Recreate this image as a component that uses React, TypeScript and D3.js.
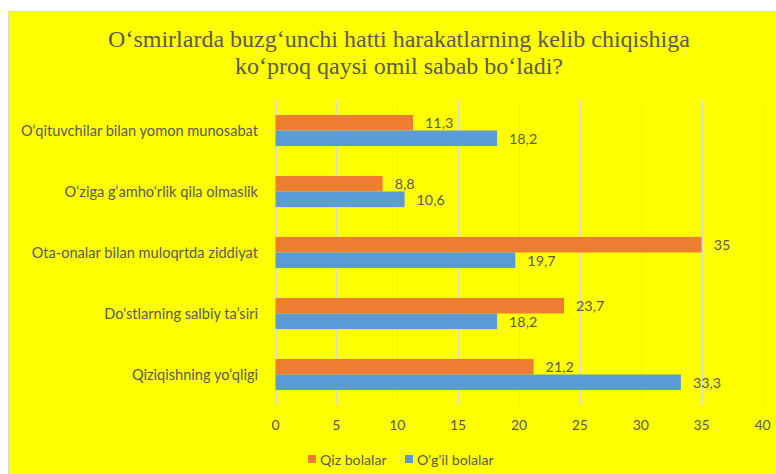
import React from "react";
import * as d3 from "d3";

const categories = [
  "O‘qituvchilar bilan yomon munosabat",
  "O‘ziga g‘amho‘rlik qila olmaslik",
  "Ota-onalar bilan muloqrtda ziddiyat",
  "Do‘stlarning salbiy ta’siri",
  "Qiziqishning yo‘qligi",
];
const qizValues = [11.3, 8.8, 35, 23.7, 21.2];
const ogilValues = [18.2, 10.6, 19.7, 18.2, 33.3];
const seriesNames = ["Qiz bolalar", "O'g'il bolalar"];
const seriesColors = ["#ED7D31", "#5B9BD5"];
const xTicks = [0, 5, 10, 15, 20, 25, 30, 35, 40];
const titleLines = [
  "O‘smirlarda buzg‘unchi hatti harakatlarning kelib chiqishiga",
  "ko‘proq qaysi omil sabab bo‘ladi?",
];

const W = 776;
const H = 474;
const TEXT = "#595959";
const FONT = "Lato, 'Noto Sans', sans-serif";

export default function App() {
  const x = d3.scaleLinear().domain([0, 40]).range([275.5, 762.5]);
  const y0 = d3
    .scaleBand<string>()
    .domain(categories)
    .range([100, 405])
    .paddingInner(0.49)
    .paddingOuter(0.245);
  const y1 = d3
    .scaleBand<string>()
    .domain(seriesNames)
    .range([0, y0.bandwidth()]);
  const fmt = (v: number) => String(v).replace(".", ",");
  const series = [qizValues, ogilValues];

  return (
    <svg
      width={W}
      height={H}
      style={{ position: "absolute", left: 0, top: 0 }}
    >
      <rect x={0} y={0} width={W} height={H} fill="#ffffff" />
      <rect
        x={8.5}
        y={11.5}
        width={W}
        height={H}
        fill="#FFFF00"
        stroke="#D9D9D9"
        strokeWidth={1}
      />
      {titleLines.map((t, i) => (
        <text
          key={i}
          x={399}
          y={47 + i * 27}
          textAnchor="middle"
          fontFamily="'Liberation Serif', 'Times New Roman', serif"
          fontSize={24}
          fill={TEXT}
        >
          {t}
        </text>
      ))}
      {xTicks.map((t) => (
        <g key={t}>
          <line
            x1={Math.round(x(t)) + 0.5}
            x2={Math.round(x(t)) + 0.5}
            y1={100}
            y2={405}
            stroke="#D9D9D9"
            strokeWidth={1}
          />
          <text
            x={x(t)}
            y={424}
            textAnchor="middle"
            dominantBaseline="central"
            fontFamily={FONT}
            fontSize={14}
            fill={TEXT}
          >
            {t}
          </text>
        </g>
      ))}
      {categories.map((c, ci) => (
        <g key={c}>
          <text
            x={258}
            y={(y0(c) as number) + y0.bandwidth() / 2}
            textAnchor="end"
            dominantBaseline="central"
            fontFamily={FONT}
            fontSize={14.6}
            fill={TEXT}
          >
            {c}
          </text>
          {series.map((vals, si) => {
            const yy = (y0(c) as number) + (y1(seriesNames[si]) as number);
            const v = vals[ci];
            return (
              <g key={si}>
                <rect
                  x={x(0)}
                  y={yy}
                  width={x(v) - x(0)}
                  height={y1.bandwidth()}
                  fill={seriesColors[si]}
                />
                <text
                  x={x(v) + 12}
                  y={yy + y1.bandwidth() / 2}
                  dominantBaseline="central"
                  fontFamily={FONT}
                  fontSize={14.3}
                  fill={TEXT}
                >
                  {fmt(v)}
                </text>
              </g>
            );
          })}
        </g>
      ))}
      {seriesNames.map((s, i) => {
        const lx = [308, 405][i];
        return (
          <g key={s}>
            <rect x={lx} y={455} width={8} height={8} fill={seriesColors[i]} />
            <text
              x={lx + 12}
              y={459}
              dominantBaseline="central"
              fontFamily={FONT}
              fontSize={14.2}
              fill={TEXT}
            >
              {s}
            </text>
          </g>
        );
      })}
    </svg>
  );
}
